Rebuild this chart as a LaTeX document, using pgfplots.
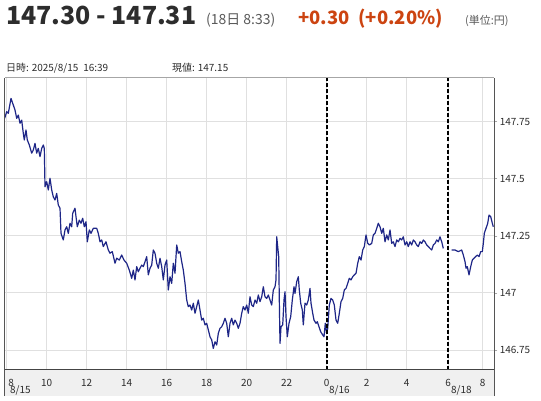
\documentclass[border=0pt]{standalone}
\usepackage{fontspec}
\setmainfont{Noto Sans CJK JP}
\usepackage{pgfplots}
\pgfplotsset{compat=1.18}
\definecolor{linec}{RGB}{30,38,135}
\definecolor{hdr}{RGB}{45,45,45}
\definecolor{chg}{RGB}{204,68,17}
\definecolor{sub}{RGB}{90,90,90}
\definecolor{gridc}{RGB}{224,224,224}
\definecolor{bandc}{RGB}{240,240,240}
\definecolor{framec}{RGB}{85,85,85}
\begin{document}
\begin{tikzpicture}[x=1bp,y=1bp]
\path[use as bounding box] (0,0) rectangle (541,400);
\fill[white] (0,0) rectangle (541,400);
% header
\node[anchor=base west, inner sep=0, text=hdr] at (6,375.8) {\fontsize{25}{25}\selectfont\bfseries 147.30 - 147.31};
\node[anchor=base west, inner sep=0, text=sub] at (206,375.8) {\fontsize{14}{14}\selectfont (18日 8:33)};
\node[anchor=base west, inner sep=0, text=chg] at (298,375.8) {\fontsize{18.5}{18}\selectfont\bfseries +0.30\hspace{9bp}(+0.20\%)};
\node[anchor=base west, inner sep=0, text=sub] at (465,375.8) {\fontsize{11}{11}\selectfont (単位:円)};
\node[anchor=base west, inner sep=0, text=hdr] at (6,329) {\fontsize{10}{10}\selectfont 日時: 2025/8/15\hspace{5bp}16:39};
\node[anchor=base west, inner sep=0, text=hdr] at (172,329) {\fontsize{10}{10}\selectfont 現値: 147.15};
% x band
\fill[bandc] (4.7,4) rectangle (494.3,30.5);
\draw[framec, line width=0.8bp] (4.7,4) -- (4.7,30.5) (494.3,4) -- (494.3,30.5);
\begin{axis}[
  at={(4.7bp,30.5bp)}, anchor=south west, scale only axis,
  width=489.6bp, height=292bp,
  xmin=7.9, xmax=32.38, ymin=146.6646, ymax=147.9436,
  axis line style={draw=none},
  xtick={8,10,12,14,16,18,20,22,24,26,28,30.07,31.8},
  xticklabels={\rlap{\hspace{1.6bp}8},10,12,14,16,18,20,22,0,2,4,6,8},
  ytick={146.75,147,147.25,147.5,147.75},
  yticklabels={146.75,147,147.25,147.5,147.75},
  yticklabel pos=right, ytick pos=right,
  xmajorgrids, ymajorgrids,
  major grid style={gridc, line width=0.9bp},
  xtick style={draw=none},
  ytick style={draw=gray!70, line width=0.6bp},
  major tick length=3bp, tick align=outside,
  xticklabel style={anchor=base, yshift=-13.6bp, text=hdr, font=\fontsize{10}{10}\selectfont},
  yticklabel style={anchor=west, xshift=-1bp, text=hdr, font=\fontsize{10}{10}\selectfont},
  clip=true,
]
\addplot[linec, line width=1.2bp, line join=round] coordinates {
(7.90,147.765) (8.00,147.794) (8.08,147.787) (8.215,147.852) (8.33,147.823) (8.415,147.801)
(8.50,147.765) (8.58,147.779) (8.665,147.743) (8.75,147.757) (8.83,147.699) (8.88,147.670)
(8.965,147.714) (9.03,147.670) (9.13,147.648) (9.25,147.612) (9.33,147.626) (9.415,147.655)
(9.50,147.612) (9.58,147.633) (9.665,147.597) (9.75,147.633) (9.83,147.648) (9.88,147.633)
(9.915,147.465) (10.00,147.487) (10.08,147.451) (10.165,147.502) (10.25,147.451) (10.33,147.421)
(10.415,147.407) (10.50,147.436) (10.58,147.385) (10.665,147.371) (10.715,147.261) (10.83,147.232)
(10.915,147.276) (11.00,147.290) (11.08,147.261) (11.165,147.305) (11.25,147.290) (11.30,147.349)
(11.415,147.371) (11.465,147.334) (11.53,147.290) (11.63,147.319) (11.715,147.305) (11.80,147.327)
(11.88,147.290) (11.965,147.312) (12.03,147.224) (12.13,147.276) (12.215,147.261) (12.33,147.283)
(12.50,147.283) (12.58,147.261) (12.665,147.224) (12.75,147.232) (12.83,147.203) (12.965,147.224)
(13.08,147.188) (13.165,147.174) (13.28,147.181) (13.415,147.130) (13.50,147.152) (13.63,147.144)
(13.75,147.166) (13.865,147.144) (14.00,147.130) (14.13,147.100) (14.25,147.064) (14.33,147.100)
(14.415,147.057) (14.50,147.115) (14.58,147.093) (14.665,147.108) (14.75,147.122) (14.83,147.115)
(14.915,147.137) (15.00,147.159) (15.08,147.079) (15.165,147.108) (15.25,147.122) (15.33,147.188)
(15.415,147.174) (15.50,147.130) (15.58,147.108) (15.665,147.152) (15.75,147.115) (15.83,147.057)
(15.915,147.122) (16.00,147.144) (16.08,147.013) (16.165,147.071) (16.25,147.042) (16.33,147.130)
(16.415,147.086) (16.50,147.210) (16.58,147.174) (16.665,147.181) (16.75,147.137) (16.83,147.100)
(16.915,147.042) (17.00,146.969) (17.08,146.940) (17.165,146.947) (17.25,146.925) (17.33,146.955)
(17.415,146.911) (17.50,146.940) (17.58,146.969) (17.665,146.925) (17.75,146.881) (17.83,146.889)
(17.915,146.860) (18.00,146.867) (18.08,146.838) (18.165,146.808) (18.25,146.794) (18.33,146.757)
(18.415,146.786) (18.50,146.772) (18.58,146.823) (18.665,146.845) (18.75,146.852) (18.83,146.867)
(18.915,146.889) (19.00,146.867) (19.08,146.808) (19.165,146.867) (19.25,146.889) (19.33,146.860)
(19.415,146.881) (19.50,146.867) (19.58,146.845) (19.665,146.867) (19.75,146.911) (19.83,146.940)
(19.915,146.925) (20.00,146.947) (20.08,146.911) (20.165,146.983) (20.25,146.947) (20.33,146.940)
(20.415,146.969) (20.50,146.955) (20.58,146.991) (20.665,146.962) (20.75,146.983) (20.83,147.027)
(20.915,146.983) (21.00,146.976) (21.08,146.991) (21.165,146.969) (21.25,146.947) (21.33,147.013)
(21.415,147.027) (21.465,147.057) (21.50,147.246) (21.55,147.202) (21.60,147.159) (21.63,146.969)
(21.665,146.779) (21.715,146.852) (21.80,146.860) (21.865,146.969) (21.915,147.005) (21.965,146.896)
(22.03,146.808) (22.115,146.867) (22.20,146.896) (22.28,146.969) (22.365,147.027) (22.415,146.998)
(22.50,147.049) (22.58,147.071) (22.63,147.013) (22.70,146.955) (22.78,146.925) (22.83,146.860)
(22.915,146.955) (23.00,146.947) (23.08,146.969) (23.165,147.020) (23.215,146.955) (23.30,146.911)
(23.365,146.881) (23.465,146.867) (23.53,146.874) (23.615,146.852) (23.70,146.830) (23.80,146.816)
(23.865,146.808) (23.93,146.867) (24.00,146.823) (24.05,146.845) (24.13,146.947) (24.215,146.976)
(24.30,146.969) (24.38,146.947) (24.465,146.881) (24.55,146.867) (24.63,146.911) (24.715,146.962)
(24.80,146.976) (24.88,147.013) (24.965,147.020) (25.05,147.042) (25.13,147.064) (25.215,147.057)
(25.30,147.071) (25.38,147.079) (25.465,147.086) (25.55,147.130) (25.63,147.159) (25.715,147.144)
(25.80,147.188) (25.88,147.203) (25.965,147.254) (26.05,147.218) (26.13,147.210) (26.25,147.217)
(26.33,147.254) (26.415,147.261) (26.50,147.283) (26.58,147.305) (26.665,147.290) (26.75,147.261)
(26.83,147.283) (26.915,147.224) (27.00,147.254) (27.08,147.232) (27.165,147.276) (27.25,147.217)
(27.33,147.224) (27.415,147.203) (27.50,147.232) (27.58,147.224) (27.665,147.239) (27.75,147.232)
(27.83,147.246) (27.915,147.210) (28.00,147.224) (28.08,147.203) (28.165,147.224) (28.25,147.210)
(28.33,147.232) (28.415,147.224) (28.50,147.210) (28.58,147.203) (28.665,147.224) (28.75,147.217)
(28.83,147.232) (28.915,147.224) (29.00,147.210) (29.08,147.203) (29.165,147.195) (29.25,147.188)
(29.33,147.210) (29.415,147.217) (29.50,147.232) (29.58,147.224) (29.665,147.246) (29.75,147.224)
(29.83,147.195)
};
\addplot[linec, line width=1.2bp, line join=round] coordinates {
(30.25,147.188) (30.415,147.188) (30.58,147.181) (30.75,147.188) (30.83,147.166) (30.915,147.137)
(30.965,147.108) (31.03,147.115) (31.115,147.079) (31.20,147.115) (31.28,147.144) (31.365,147.152)
(31.45,147.159) (31.53,147.166) (31.615,147.159) (31.70,147.181) (31.78,147.181) (31.83,147.217)
(31.88,147.261) (31.965,147.283) (32.05,147.305) (32.115,147.341) (32.20,147.334) (32.28,147.305)
(32.33,147.290)
};
\draw[black, line width=1.6bp, dash pattern=on 4bp off 2bp] (axis cs:24,146.6646) -- (axis cs:24,147.9436);
\draw[black, line width=1.6bp, dash pattern=on 4bp off 2bp] (axis cs:30.07,146.6646) -- (axis cs:30.07,147.9436);
\end{axis}
% date labels
\node[anchor=base west, inner sep=0, text=hdr, font=\fontsize{10}{10}\selectfont] at (10,6.2) {8/15};
\node[anchor=base west, inner sep=0, text=hdr, font=\fontsize{10}{10}\selectfont] at (329,6.2) {8/16};
\node[anchor=base west, inner sep=0, text=hdr, font=\fontsize{10}{10}\selectfont] at (451,6.2) {8/18};
% frame
\draw[gray!70, line width=0.8bp] (4.7,322.5) -- (494.3,322.5);
\draw[framec, line width=1bp] (4.7,30.5) -- (4.7,322.5);
\draw[framec, line width=1bp] (494.3,30.5) -- (494.3,322.5);
\draw[framec!80!black, line width=1.5bp] (4.7,30.5) -- (494.3,30.5);
\end{tikzpicture}
\end{document}
